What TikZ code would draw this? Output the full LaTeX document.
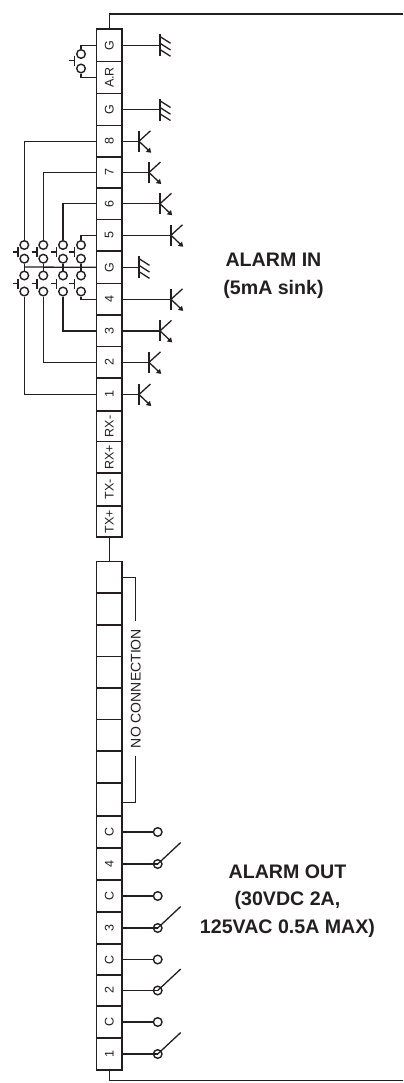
\documentclass[tikz,border=0pt]{standalone}
\usepackage{fontspec}
\usepackage{graphicx}
\setmainfont{Liberation Sans}
\usetikzlibrary{calc,positioning}
\definecolor{ink}{HTML}{231F20}
\tikzset{
  wire/.style={draw=ink,line width=1.3bp},
  thick wire/.style={draw=ink,line width=1.5bp},
  cellbox/.style={draw=ink,line width=1.5bp,rectangle,inner sep=0,minimum width=25.5bp,text=ink,font=\fontsize{12.5bp}{13bp}\selectfont},
  contact/.style={draw=ink,line width=1.4bp,circle,inner sep=0,minimum size=8.6bp,fill=white},
  biglabel/.style={text=ink,font=\fontsize{19.6bp}{20bp}\selectfont\bfseries,inner sep=0},
}
% cell: name, top y, bottom y, label
\newcommand{\cellnode}[4]{%
  \pgfmathsetlengthmacro{\cellh}{(#3-#2)*1bp}%
  \pgfmathsetmacro{\cellm}{(#2+#3)/2}%
  \node[cellbox,minimum height=\cellh] (#1) at (109.25,\cellm) {\rotatebox{90}{#4}};}
% transistor: name, source anchor, bar x
\newcommand{\trans}[3]{%
  \path let \p1=(#2) in coordinate (#1) at (#3bp,\y1);
  \draw[wire] (#2) -- (#1);
  \draw[wire] ($(#1)+(0,-10.5)$) -- ($(#1)+(0,10.5)$);
  \draw[wire] (#1) -- ($(#1)+(11.5,-10.5)$);
  \draw[wire] (#1) -- ($(#1)+(9.5,9)$);
  \fill[ink] ($(#1)+(12.2,11.5)$) -- ($(#1)+(6.8,10.6)$) -- ($(#1)+(11,6.4)$) -- cycle;}
% ground
\newcommand{\gnd}[3]{%
  \path let \p1=(#2) in coordinate (#1) at (#3bp,\y1);
  \draw[wire] (#2) -- (#1);
  \draw[wire] ($(#1)+(0,-11)$) -- ($(#1)+(0,11)$);
  \foreach \d in {-8.7,-2,4.3}{\draw[wire] ($(#1)+(0,\d)$) -- ($(#1)+(10.5,\d+6.7)$);}}
% pusher at left of a contact pair
\newcommand{\pusher}[2]{%
  \draw[wire] ($(#1,#2)+(-11.7,0)$) -- ($(#1,#2)+(-6.3,0)$);
  \draw[wire] ($(#1,#2)+(-6.3,-5)$) -- ($(#1,#2)+(-6.3,5)$);}
% relay pair: cell c, cell n, suffix
\newcommand{\relay}[3]{%
  \path let \p1=(#1) in node[contact] (r#3c) at (157.7bp,\y1) {};
  \path let \p1=(#2) in node[contact] (r#3n) at (157.7bp,\y1) {};
  \draw[wire] (#1) -- (r#3c);
  \draw[wire] (#2) -- (r#3n.center);
  \coordinate (r#3t) at ($(r#3n)+(23,-21.5)$);
  \draw[wire] (r#3n.center) -- (r#3t);}
\begin{document}
\begin{tikzpicture}[x=1bp,y=-1bp]
\useasboundingbox (0,0) rectangle (403,1083);
% upper strip
\cellnode{ug1}{29}{61.5}{G}
\cellnode{uar}{61.5}{93.5}{A.R}
\cellnode{ug2}{93.5}{125.5}{G}
\cellnode{i8}{125.5}{157}{8}
\cellnode{i7}{157}{188}{7}
\cellnode{i6}{188}{219.5}{6}
\cellnode{i5}{219.5}{251}{5}
\cellnode{ug3}{251}{283.7}{G}
\cellnode{i4}{283.7}{315}{4}
\cellnode{i3}{315}{346.7}{3}
\cellnode{i2}{346.7}{378}{2}
\cellnode{i1}{378}{411}{1}
\cellnode{rxm}{411}{441.7}{RX-}
\cellnode{rxp}{441.7}{473}{RX+}
\cellnode{txm}{473}{506}{TX-}
\cellnode{txp}{506}{537}{TX+}
% lower strip
\cellnode{n1}{561.7}{593}{}
\cellnode{n2}{593}{625}{}
\cellnode{n3}{625}{656.5}{}
\cellnode{n4}{656.5}{688}{}
\cellnode{n5}{688}{719.5}{}
\cellnode{n6}{719.5}{751}{}
\cellnode{n7}{751}{783}{}
\cellnode{n8}{783}{816}{}
\cellnode{oc4}{816}{848}{C}
\cellnode{o4}{848}{880}{4}
\cellnode{oc3}{880}{912}{C}
\cellnode{o3}{912}{944}{3}
\cellnode{oc2}{944}{975}{C}
\cellnode{o2}{975}{1006}{2}
\cellnode{oc1}{1006}{1038}{C}
\cellnode{o1}{1038}{1070}{1}
% link and outer frame
\draw[thick wire] (txp.south) -- (n1.north);
\coordinate (frt) at (403,14);
\coordinate (frb) at (403,1080.5);
\draw[thick wire] (ug1.north) |- (frt);
\draw[thick wire] (o1.south) |- (frb);
% reset button
\node[contact] (ra) at (81,54) {};
\node[contact] (rb) at (81,68.5) {};
\draw[wire] (ug1.west) -| (ra.north);
\draw[wire] (uar.west) -| (rb.south);
\pusher{81}{60.5}
% grounds
\gnd{g1}{ug1.east}{160}
\gnd{g2}{ug2.east}{160}
\gnd{g3}{ug3.east}{139}
% transistors
\trans{t8}{i8.east}{139}
\trans{t7}{i7.east}{149}
\trans{t6}{i6.east}{160}
\trans{t5}{i5.east}{171}
\trans{t4}{i4.east}{171}
\trans{t3}{i3.east}{160}
\trans{t2}{i2.east}{149}
\trans{t1}{i1.east}{139}
% alarm contacts
\node[contact] (a8) at (24.3,245) {};
\node[contact] (b8) at (24.3,258.7) {};
\node[contact] (a7) at (43.3,245) {};
\node[contact] (b7) at (43.3,258.7) {};
\node[contact] (a6) at (63,245) {};
\node[contact] (b6) at (63,258.7) {};
\node[contact] (a5) at (81,245) {};
\node[contact] (b5) at (81,258.7) {};
\node[contact] (a1) at (24.3,291.5) {};
\node[contact] (b1) at (24.3,275.5) {};
\node[contact] (a2) at (43.3,291.5) {};
\node[contact] (b2) at (43.3,275.5) {};
\node[contact] (a3) at (63,291.5) {};
\node[contact] (b3) at (63,275.5) {};
\node[contact] (a4) at (81,291.5) {};
\node[contact] (b4) at (81,275.5) {};
\draw[wire] (i8.west) -| (a8.north);
\draw[wire] (i7.west) -| (a7.north);
\draw[wire] (i6.west) -| (a6.north);
\draw[wire] (i5.west) -| (a5.north);
\draw[wire] (i4.west) -| (a4.south);
\draw[wire] (i3.west) -| (a3.south);
\draw[wire] (i2.west) -| (a2.south);
\draw[wire] (i1.west) -| (a1.south);
\coordinate (gbus) at (24.3,267);
\draw[wire] (ug3.west) -- (gbus);
\foreach \c in {8,7,6,5}{\draw[wire] (b\c.south) -- (b\c.south |- gbus);}
\foreach \c in {1,2,3,4}{\draw[wire] (b\c.north) -- (b\c.north |- gbus);}
\foreach \x in {24.3,43.3,63,81}{\pusher{\x}{252}\pusher{\x}{283.5}}
% no connection
\coordinate (nca) at (135.7,577.7);
\coordinate (ncb) at (135.7,802.7);
\node[rotate=90,text=ink,inner sep=0,font=\fontsize{14bp}{15bp}\selectfont,inner xsep=7.5bp] (nc) at (135.7,688.5) {NO CONNECTION};
\draw[wire] (n1.east |- nca) -- (nca) -- (nc.east);
\draw[wire] (n8.east |- ncb) -- (ncb) -- (nc.west);
% relays
\relay{oc4.east}{o4.east}{4}
\relay{oc3.east}{o3.east}{3}
\relay{oc2.east}{o2.east}{2}
\relay{oc1.east}{o1.east}{1}
% labels
\node[biglabel] (li1) at (273.5,259.5) {ALARM IN};
\node[biglabel] (li2) at (273.5,289) {(5mA sink)};
\node[biglabel] (lo1) at (287.5,872) {ALARM OUT};
\node[biglabel] (lo2) at (287.5,900) {(30VDC 2A,};
\node[biglabel] (lo3) at (287.5,928) {125VAC 0.5A MAX)};
\end{tikzpicture}
\end{document}
